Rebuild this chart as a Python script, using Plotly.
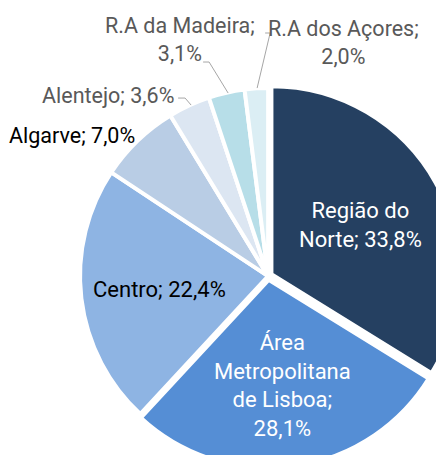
import math
import plotly.graph_objects as go

# ---- data ----
labels = ["Região do Norte", "Área Metropolitana de Lisboa", "Centro", "Algarve",
          "Alentejo", "R.A da Madeira", "R.A dos Açores"]
values = [33.8, 28.1, 22.4, 7.0, 3.6, 3.1, 2.0]
colors = ["#254061", "#558ED5", "#8EB4E3", "#B9CDE5", "#DCE6F2", "#B7DEE8", "#DBEEF4"]
pulls = [0.02, 0.02, 0, 0, 0, 0, 0]

def fmt(v):
    return f"{v:.1f}".replace(".", ",") + "%"

inside_text = [
    f"Região do<br>Norte; {fmt(values[0])}",
    f"Área<br>Metropolitana<br>de Lisboa;<br>{fmt(values[1])}",
    f"Centro; {fmt(values[2])}",
]
inside_colors = ["white", "white", "black"]
inside_radius = [0.54, 0.565, 0.58]  # label distance as a fraction of the radius

OFF = 8  # default body margin of the page
FONT = "Roboto"
FS = 21.5
FS_IN = 22

# pie geometry in page pixels
CX, CY, R = 268, 276, 188
half = R * (1 + max(pulls))
dom_left, dom_top = CX - half - OFF, CY - half - OFF
W, H = dom_left + 2 * half, dom_top + 2 * half

def px(x):
    return (x - OFF) / W

def py(y):
    return 1 - (y - OFF) / H

fig = go.Figure(go.Pie(
    labels=labels,
    values=values,
    sort=False,
    direction="clockwise",
    rotation=0,
    pull=pulls,
    textinfo="none",
    marker=dict(colors=colors, line=dict(color="white", width=4)),
    domain=dict(x=[dom_left / W, 1], y=[0, 1 - dom_top / H]),
    hoverinfo="label+percent",
    showlegend=False,
))

# inside labels placed along each slice's mid angle
total = sum(values)
cum = 0.0
for i, v in enumerate(values):
    mid = (cum + v / 2) / total * 2 * math.pi
    cum += v
    if i >= len(inside_text):
        continue
    dist = R * (inside_radius[i] + pulls[i])
    x = CX + dist * math.sin(mid)
    y = CY - dist * math.cos(mid)
    fig.add_annotation(
        x=px(x), y=py(y), xref="paper", yref="paper",
        text=inside_text[i], showarrow=False, xanchor="center", yanchor="middle",
        align="center", font=dict(family=FONT, size=FS_IN, color=inside_colors[i]),
    )

gray = "#595959"
outside = [
    (f"{labels[3]}; {fmt(values[3])}", 137, 135, "black", "right"),
    (f"{labels[4]}; {fmt(values[4])}", 176, 95, gray, "right"),
    (f"{labels[5]};<br>{fmt(values[5])}", 180, 39, gray, "center"),
    (f"{labels[6]};<br>{fmt(values[6])}", 343, 42, gray, "center"),
]
for txt, x, y, c, anc in outside:
    fig.add_annotation(
        x=px(x), y=py(y), xref="paper", yref="paper",
        text=txt, showarrow=False, xanchor=anc, yanchor="middle",
        align="center", font=dict(family=FONT, size=FS, color=c),
    )

leaders = [
    [(178, 98), (185, 98), (191, 105)],
    [(203, 62), (209, 62), (228, 93)],
    [(265, 33), (270, 33), (257, 88)],
]
for pts in leaders:
    path = "M " + " L ".join(f"{px(a)},{py(b)}" for a, b in pts)
    fig.add_shape(type="path", path=path, xref="paper", yref="paper",
                  line=dict(color="#A6A6A6", width=1))

fig.update_layout(
    width=W, height=H, autosize=False,
    margin=dict(l=0, r=0, t=0, b=0),
    paper_bgcolor="white", plot_bgcolor="white",
)
fig.write_html("out.html")
